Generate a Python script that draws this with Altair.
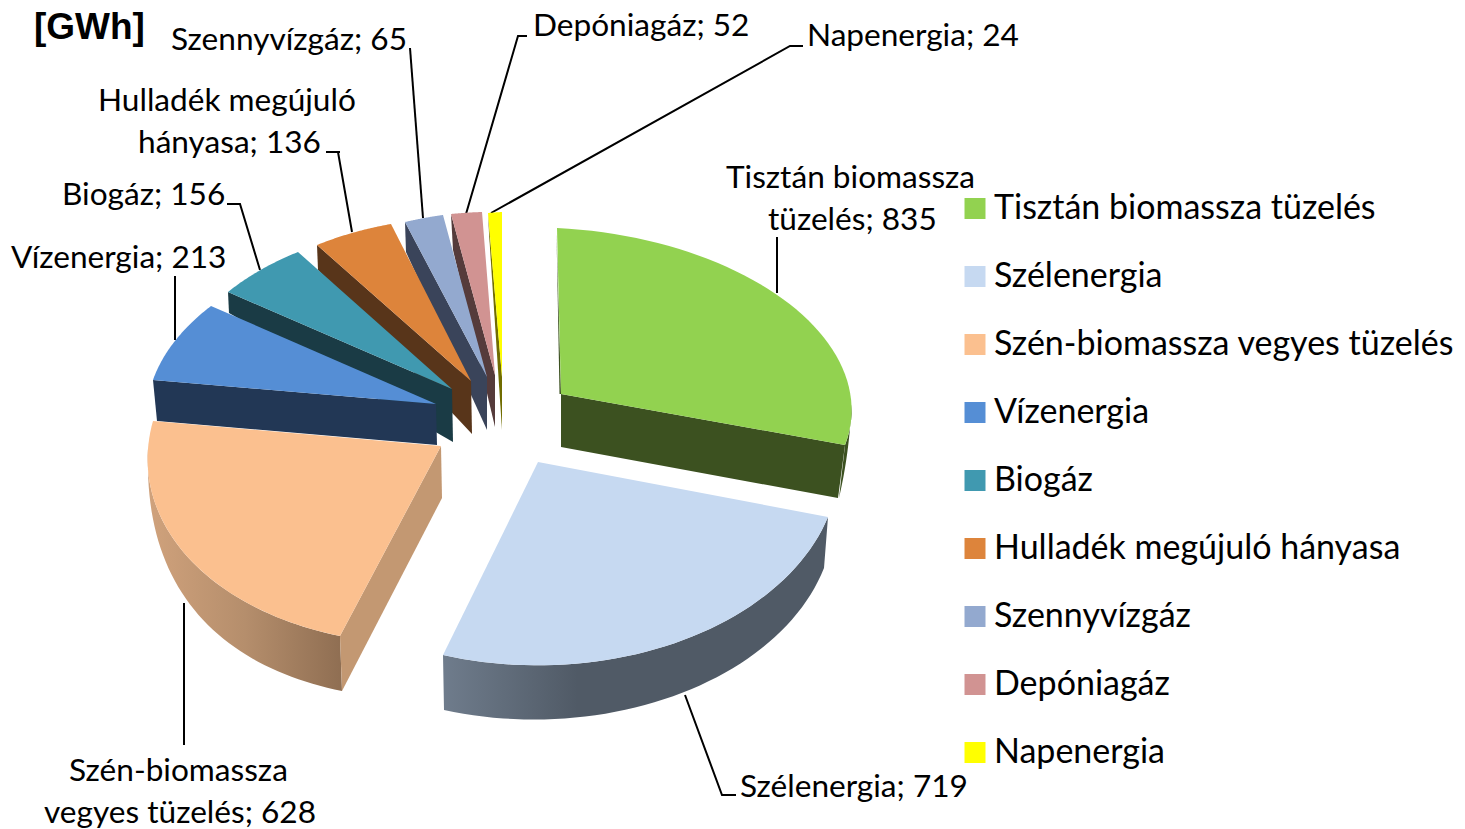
import numpy as np
import pandas as pd
import altair as alt

categories = ["Tisztán biomassza tüzelés", "Szélenergia", "Szén-biomassza vegyes tüzelés",
              "Vízenergia", "Biogáz", "Hulladék megújuló hányasa", "Szennyvízgáz",
              "Depóniagáz", "Napenergia"]
values = [835, 719, 628, 213, 156, 136, 65, 52, 24]
top_colors = ["#92d250", "#c6d9f1", "#fbc08f", "#558ed5", "#4099b0", "#dd843b", "#93a9cf", "#d19392", "#ffff00"]
wall_colors = ["#3c5120", "#505a66", "#c39872", "#223755", "#1a3b45", "#58351a", "#3a445a", "#553b3b", "#706c00"]

# where each exploded slice sits in the tilted view: apex, start corner, end corner
apexes = [(561, 394), (538, 462), (441, 446), (436, 404), (452, 389), (471, 381), (487, 377), (495, 375), (502, 377)]
starts = [(557, 228), (828, 517), (340, 636), (153, 380), (228, 292), (317, 245), (405, 222), (451, 214), (488, 213)]
ends = [(845, 445), (443, 655), (153, 421), (211, 306), (298, 252), (391, 224), (443, 215), (482, 212), (502, 212)]
# perspective correction of each rim between its corners
rim_flatten = [0.035, -0.01, -0.007, 0, 0, 0, 0, 0, 0]
# lower edge of the visible cut wall: below apex, below corner
wall_apex = [(561, 447), None, (442, 498), (437, 445), (453, 442), (472, 434), (487, 430), (495, 427), (502, 430)]
wall_corner = [(838, 498), None, (342, 691), (157, 421), (229, 313), (318, 270), (406, 252), (453, 250), (489, 233)]

label_rows = [
    ("Szennyvízgáz; 65", 171, 39), ("Depóniagáz; 52", 533, 25), ("Napenergia; 24", 807, 35),
    ("Hulladék megújuló", 98, 100), ("hányasa; 136", 138, 142),
    ("Tisztán biomassza", 726, 177), ("tüzelés; 835", 768, 219),
    ("Biogáz; 156", 62, 194), ("Vízenergia; 213", 11, 257),
    ("Szén-biomassza", 69, 770), ("vegyes tüzelés; 628", 44, 812),
    ("Szélenergia; 719", 740, 786),
]
leaders = [
    [(410, 48), (423, 218)],
    [(527, 36), (518, 36), (466, 214)],
    [(803, 46), (790, 46), (491, 213)],
    [(340, 152), (326, 152), (338, 152), (352, 232)],
    [(227, 204), (240, 204), (260, 270)],
    [(175, 276), (175, 340)],
    [(777, 237), (777, 293)],
    [(184, 603), (184, 745)],
    [(685, 695), (722, 795), (736, 795)],
]

FONT = "Lato"
W, H = 1449, 821
xs = alt.Scale(domain=[8, 8 + W], nice=False, zero=False)
ys = alt.Scale(domain=[8 + H, 8], nice=False, zero=False)

edges = np.concatenate([[0], np.cumsum(values)]) / sum(values) * 360.0


def frame(i):
    a = np.array(apexes[i], float)
    t1, t2 = np.radians(edges[i]), np.radians(edges[i + 1])
    U = np.array([[np.sin(t1), np.sin(t2)], [np.cos(t1), np.cos(t2)]])
    V = np.array([np.array(starts[i]) - a, np.array(ends[i]) - a]).T
    M = V @ np.linalg.inv(U)
    return a, M


def arc(i, d1, d2, n=48):
    a, M = frame(i)
    pts = []
    for d in np.linspace(d1, d2, n):
        t = np.radians(d)
        k = 1 - rim_flatten[i] * np.sin(np.pi * (d - edges[i]) / (edges[i + 1] - edges[i]))
        pts.append(tuple(a + k * (M @ np.array([np.sin(t), np.cos(t)]))))
    return pts


def poly(points, fill):
    df = pd.DataFrame(points, columns=["x", "y"])
    df["i"] = range(len(df))
    return alt.Chart(df).mark_line(fill=fill, stroke=None, strokeWidth=0, interpolate="linear-closed").encode(
        x=alt.X("x:Q", scale=xs, axis=None),
        y=alt.Y("y:Q", scale=ys, axis=None),
        order=alt.Order("i:Q"),
    )


def gradient(c0, mid, c1, pos):
    return alt.LinearGradient(gradient="linear", x1=0, x2=1, y1=0, y2=0,
                              stops=[alt.GradientStop(offset=0, color=c0),
                                     alt.GradientStop(offset=pos, color=mid),
                                     alt.GradientStop(offset=1, color=c1)])


def outer_wall(i, d1, d2, s1, s2, fill, power=1.0):
    top = arc(i, d1, d2)
    ss = np.linspace(0, 1, len(top)) ** power
    low = [(p[0] + s1[0] + (s2[0] - s1[0]) * k, p[1] + s1[1] + (s2[1] - s1[1]) * k) for p, k in zip(top, ss)]
    return poly(top + low[::-1], fill)


layers = []
for pts in leaders:
    df = pd.DataFrame(pts, columns=["x", "y"])
    df["i"] = range(len(df))
    layers.append(alt.Chart(df).mark_line(color="black", strokeWidth=2).encode(
        x=alt.X("x:Q", scale=xs, axis=None), y=alt.Y("y:Q", scale=ys, axis=None), order=alt.Order("i:Q")))

# small slices, back to front
for i in [8, 7, 6, 5, 4, 3]:
    layers.append(poly([apexes[i], starts[i], wall_corner[i], wall_apex[i]], wall_colors[i]))
    layers.append(poly([apexes[i]] + arc(i, edges[i], edges[i + 1]), top_colors[i]))

# peach
i = 2
layers.append(outer_wall(i, edges[i], 271, (2, 55), (0, 0), gradient("#d0a27c", "#b58e6c", "#8f6e52", 0.5), power=3.0))
layers.append(poly([apexes[i], starts[i], wall_corner[i], wall_apex[i]], wall_colors[i]))
layers.append(poly([apexes[i]] + arc(i, edges[i], edges[i + 1]), top_colors[i]))

# wind
i = 1
layers.append(outer_wall(i, edges[i], edges[i + 1], (-4, 51), (1, 55), gradient("#6f7c8c", "#505a66", "#505a66", 0.35)))
layers.append(poly([apexes[i]] + arc(i, edges[i], edges[i + 1]), top_colors[i]))

# green
i = 0
layers.append(poly([(556.5, 232), apexes[i], (559.5, 394)], wall_colors[i]))
layers.append(outer_wall(i, 92, edges[i + 1], (0, 0), (-6, 53), wall_colors[i]))
layers.append(poly([apexes[i], ends[i], wall_corner[i], wall_apex[i]], wall_colors[i]))
layers.append(poly([apexes[i]] + arc(i, edges[i], edges[i + 1]), top_colors[i]))

# data labels
lab = pd.DataFrame(label_rows, columns=["t", "x", "y"])
layers.append(alt.Chart(lab).mark_text(font=FONT, fontSize=31.6, align="left", baseline="middle", color="black", dy=2).encode(
    x=alt.X("x:Q", scale=xs, axis=None), y=alt.Y("y:Q", scale=ys, axis=None), text="t:N"))
unit = pd.DataFrame({"t": ["[GWh]"], "x": [34], "y": [28]})
layers.append(alt.Chart(unit).mark_text(font="Liberation Sans", fontWeight="bold", fontSize=37, align="left",
                                        baseline="middle", color="black").encode(
    x=alt.X("x:Q", scale=xs, axis=None), y=alt.Y("y:Q", scale=ys, axis=None), text="t:N"))

# legend carrier
leg = pd.DataFrame({"c": categories, "x": [600] * 9, "y": [400] * 9})
layers.append(alt.Chart(leg).mark_square(size=0, opacity=1).encode(
    x=alt.X("x:Q", scale=xs, axis=None), y=alt.Y("y:Q", scale=ys, axis=None),
    color=alt.Color("c:N", scale=alt.Scale(domain=categories, range=top_colors), sort=categories,
                    legend=alt.Legend(orient="none", legendX=950, legendY=183.5, title=None, symbolType="square",
                                      symbolSize=441, labelFontSize=34, labelFont=FONT, labelColor="black",
                                      labelOffset=2, rowPadding=34, padding=0, symbolStrokeWidth=0,
                                      labelLimit=600))))

chart = alt.layer(*layers).properties(width=W, height=H, padding=0,
                                      autosize=alt.AutoSizeParams(type="none")).configure_view(stroke=None)
chart.save("out.html", embed_options={"renderer": "svg", "actions": False})
